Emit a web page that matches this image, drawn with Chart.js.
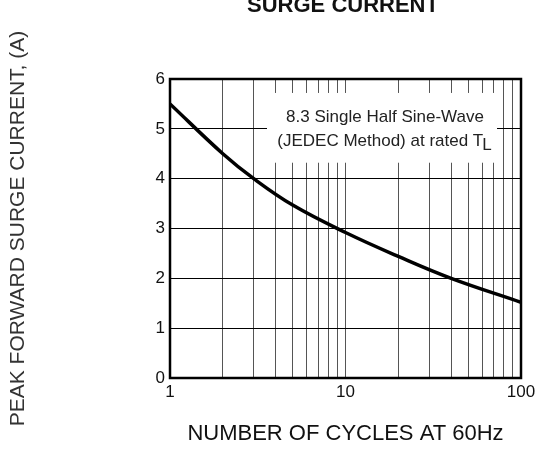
<!DOCTYPE html>
<html>
<head>
<meta charset="utf-8">
<script src="https://cdn.jsdelivr.net/npm/chart.js@4"></script>
<style>
  html, body { margin: 0; padding: 0; background: #fff; }
  #wrap { width: 541px; height: 451px; position: relative; }
</style>
</head>
<body>
<div id="wrap"><canvas id="surgeChart"></canvas></div>
<script>
// curve
const cycles = [1, 2, 3, 5, 10, 20, 40, 100];
const surgeCurrent = [5.5, 4.5, 4.0, 3.47, 2.92, 2.44, 2.0, 1.52];

// axis ticks
const xTickValues = [1, 2, 3, 4, 5, 6, 7, 8, 9, 10, 20, 30, 40, 50, 60, 70, 80, 90, 100];
const xTickLabels = [1, 10, 100];
const yMin = 0, yMax = 6;

// note box, in data units
const noteLines = ['8.3 Single Half Sine-Wave', '(JEDEC Method) at rated T'];
const noteBox = { x0: 3.57, x1: 73, y0: 4.32, y1: 5.72 };

const FONT = "'Liberation Sans', Arial, sans-serif";

const overlay = {
  id: 'overlay',
  beforeDatasetsDraw(chart) {
    const {ctx, scales: {x, y}} = chart;
    const l = x.getPixelForValue(noteBox.x0), r = x.getPixelForValue(noteBox.x1);
    const t = y.getPixelForValue(noteBox.y1), b = y.getPixelForValue(noteBox.y0);
    ctx.save();
    ctx.fillStyle = '#fff';
    ctx.fillRect(l, t, r - l, b - t);
    ctx.fillStyle = '#222';
    ctx.font = '17px ' + FONT;
    ctx.textBaseline = 'middle';
    ctx.textAlign = 'center';
    const cx = (l + r) / 2 + 3, cy = (t + b) / 2;
    ctx.fillText(noteLines[0], cx, cy - 11);
    // second line with subscript L
    const w1 = ctx.measureText(noteLines[1]).width;
    const w2 = ctx.measureText('L').width;
    const sx = cx - (w1 + w2) / 2;
    ctx.textAlign = 'left';
    ctx.fillText(noteLines[1], sx, cy + 13);
    ctx.fillText('L', sx + w1 - 1, cy + 17);
    ctx.restore();
  },
  afterDatasetsDraw(chart) {
    const {ctx, chartArea: a} = chart;
    ctx.save();
    ctx.strokeStyle = '#000';
    ctx.lineWidth = 2.5;
    ctx.strokeRect(a.left, a.top, a.right - a.left, a.bottom - a.top);
    // title, cut off at the top edge like the scan
    ctx.fillStyle = '#111';
    ctx.font = 'bold 22px ' + FONT;
    ctx.textAlign = 'center';
    ctx.textBaseline = 'alphabetic';
    ctx.fillText('SURGE CURRENT', 343, 12);
    ctx.restore();
  }
};

new Chart(document.getElementById('surgeChart'), {
  type: 'line',
  data: {
    datasets: [{
      data: cycles.map((c, i) => ({x: c, y: surgeCurrent[i]})),
      borderColor: '#000',
      borderWidth: 3.5,
      pointRadius: 0,
      fill: false,
      tension: 0.4
    }]
  },
  options: {
    responsive: true,
    maintainAspectRatio: false,
    animation: false,
    layout: { padding: { top: 79, right: 20, left: 0, bottom: 0 } },
    plugins: {
      legend: { display: false },
      tooltip: { enabled: false }
    },
    scales: {
      x: {
        type: 'logarithmic',
        min: 1,
        max: 100,
        afterBuildTicks: (scale) => {
          scale.ticks = xTickValues.map(v => ({value: v}));
        },
        afterFit: (scale) => { scale.height = 73; },
        border: { display: false },
        grid: { color: '#555', lineWidth: 1, drawTicks: false },
        ticks: {
          autoSkip: false,
          maxRotation: 0,
          padding: 4,
          color: '#111',
          font: { family: FONT, size: 17 },
          callback: (v) => xTickLabels.includes(v) ? String(v) : ''
        },
        title: {
          display: true,
          text: 'NUMBER OF CYCLES AT 60Hz',
          color: '#111',
          font: { family: FONT, size: 22 },
          padding: { top: 0, bottom: 4 }
        }
      },
      y: {
        min: yMin,
        max: yMax,
        afterFit: (scale) => { scale.width = 170; },
        border: { display: false },
        grid: { color: '#000', lineWidth: 1, drawTicks: false },
        ticks: {
          stepSize: 1,
          padding: 5,
          color: '#111',
          font: { family: FONT, size: 17 }
        },
        title: {
          display: true,
          text: 'PEAK FORWARD SURGE CURRENT, (A)',
          color: '#333',
          font: { family: FONT, size: 21 },
          padding: { top: 6, bottom: 0 }
        }
      }
    }
  },
  plugins: [overlay]
});
</script>
</body>
</html>
